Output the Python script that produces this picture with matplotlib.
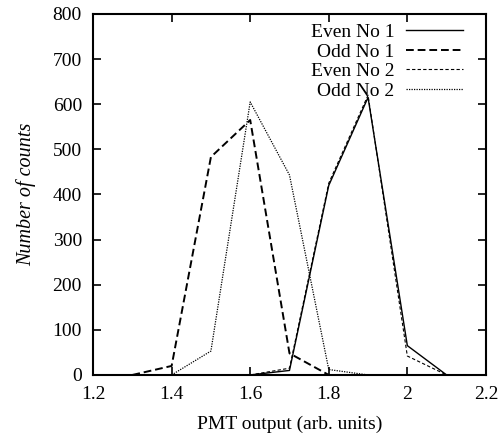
import matplotlib
matplotlib.use("Agg")
import matplotlib.pyplot as plt

x_even = [1.6, 1.7, 1.8, 1.9, 2.0, 2.1]
even1 = [0, 10, 420, 615, 65, 0]
even2 = [0, 15, 425, 620, 42, 0]
x_odd1 = [1.3, 1.4, 1.5, 1.6, 1.7, 1.8]
odd1 = [0, 20, 483, 565, 48, 0]
x_odd2 = [1.4, 1.5, 1.6, 1.7, 1.8, 1.9]
odd2 = [0, 53, 605, 443, 12, 0]

xticks = [1.2, 1.4, 1.6, 1.8, 2.0, 2.2]
xticklabels = ["1.2", "1.4", "1.6", "1.8", "2", "2.2"]
yticks = [0, 100, 200, 300, 400, 500, 600, 700, 800]

plt.rcParams['font.family'] = ['Liberation Serif', 'DejaVu Serif']

fig = plt.figure(figsize=(5.03, 4.36), dpi=100)
ax = fig.add_axes([0.185, 0.140, 0.781, 0.828])

ax.plot(x_even, even1, color='black', lw=1.0, ls='-', label='Even No 1')
ax.plot(x_odd1, odd1, color='black', lw=1.4, ls=(0, (4, 2)), label='Odd No 1')
ax.plot(x_even, even2, color='black', lw=0.8, ls=(0, (3, 2)), label='Even No 2')
ax.plot(x_odd2, odd2, color='black', lw=0.9, ls=(0, (1, 1)), label='Odd No 2')

ax.set_xlim(1.2, 2.2)
ax.set_ylim(0, 800)
ax.set_xticks(xticks)
ax.set_xticklabels(xticklabels)
ax.set_yticks(yticks)
ax.tick_params(direction='in', top=True, right=True, length=6, width=1.2,
               labelsize=14)
ax.tick_params(axis='x', pad=8)
ax.tick_params(axis='y', pad=8)
for s in ax.spines.values():
    s.set_linewidth(1.5)

ax.set_xlabel('PMT output (arb. units)', fontsize=14, labelpad=9)
ax.set_ylabel('Number of counts', fontsize=14.5, style='italic', labelpad=12)

leg = ax.legend(loc='upper right', bbox_to_anchor=(0.941, 0.974),
                frameon=False, markerfirst=False,
                fontsize=14, handlelength=2.9, handletextpad=0.6,
                labelspacing=0.1, borderaxespad=0.0, borderpad=0.0)
for t in leg.get_texts():
    t.set_ha('right')

fig.savefig('out.png', dpi=100)
